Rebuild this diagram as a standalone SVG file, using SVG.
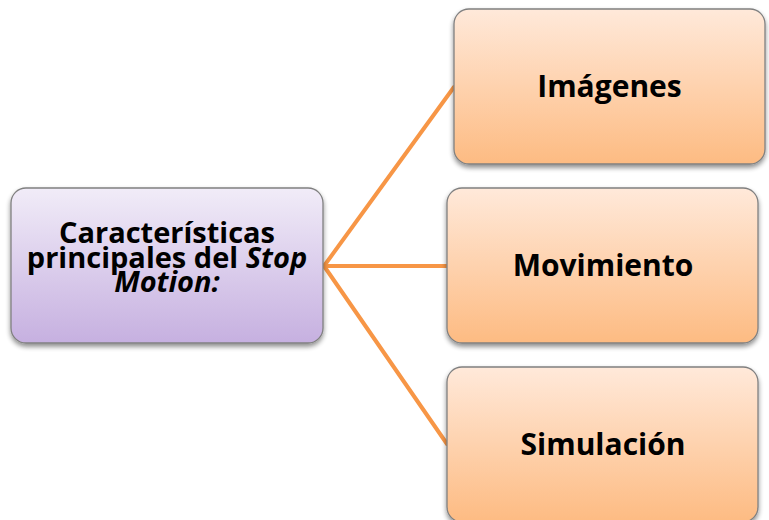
<svg xmlns="http://www.w3.org/2000/svg" width="769" height="520" viewBox="0 0 769 520">
<defs>
<linearGradient id="gP" x1="0" y1="0" x2="0" y2="1">
<stop offset="0" stop-color="#F1ECF8"/>
<stop offset="1" stop-color="#C6B0E0"/>
</linearGradient>
<linearGradient id="gO" x1="0" y1="0" x2="0" y2="1">
<stop offset="0" stop-color="#FFE9DA"/>
<stop offset="1" stop-color="#FDBB82"/>
</linearGradient>
<filter id="sh" x="-10%" y="-10%" width="120%" height="130%">
<feGaussianBlur in="SourceAlpha" stdDeviation="2.5"/>
<feOffset dx="0" dy="3" result="b"/>
<feComponentTransfer><feFuncA type="linear" slope="0.45"/></feComponentTransfer>
<feMerge><feMergeNode/><feMergeNode in="SourceGraphic"/></feMerge>
</filter>
</defs>
<style>
.box{stroke:#808080;stroke-width:1.3;filter:url(#sh)}
.p{fill:url(#gP)}
.o{fill:url(#gO)}
text{font-family:"Open Sans","Noto Sans","DejaVu Sans",sans-serif;font-weight:bold;fill:#000;text-anchor:middle}
.t{font-size:30px}
.m{font-size:29px}
.c{stroke:#F79646;stroke-width:4;fill:none;stroke-linecap:round}
</style>
<rect width="769" height="520" fill="#FFFFFF"/>
<g id="connectors">
<line class="c" x1="324" y1="266" x2="454" y2="87"/>
<line class="c" x1="324" y1="266" x2="447" y2="266"/>
<line class="c" x1="324" y1="266" x2="447" y2="444"/>
</g>
<g id="node-main">
<rect class="box p" x="11" y="188" width="312" height="155" rx="15"/>
<text class="m" x="167" y="243">Características</text>
<text class="m" x="167" y="267.5">principales del <tspan font-style="italic">Stop</tspan></text>
<text class="m" x="167" y="292" font-style="italic">Motion:</text>
</g>
<g id="node-imagenes">
<rect class="box o" x="454" y="9" width="311" height="155" rx="15"/>
<text class="t" x="609.5" y="97">Imágenes</text>
</g>
<g id="node-movimiento">
<rect class="box o" x="447" y="188" width="311" height="155" rx="15"/>
<text class="t" x="603" y="276">Movimiento</text>
</g>
<g id="node-simulacion">
<rect class="box o" x="447" y="367" width="311" height="155" rx="15"/>
<text class="t" x="603" y="455">Simulación</text>
</g>
</svg>
